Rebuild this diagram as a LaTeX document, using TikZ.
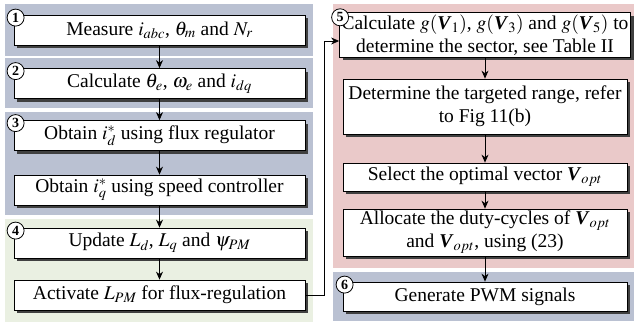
\documentclass[tikz,border=0pt]{standalone}
\usepackage{amsmath}
\usepackage{mathptmx}
\usepackage[no-math]{fontspec}
\setmainfont{Liberation Serif}
\usetikzlibrary{arrows.meta, positioning, shadows, calc}
\definecolor{bandgray}{RGB}{186,193,210}
\definecolor{bandpink}{RGB}{234,201,201}
\definecolor{bandgreen}{RGB}{234,240,226}
\newcommand{\Vvec}{\textbf{\textit{V}}}

\begin{document}
\begin{tikzpicture}[x=1pt, y=-1pt,
    stepbox/.style={rectangle, draw, fill=white, line width=0.8pt, inner sep=2pt, align=center,
        font=\fontsize{19.5}{23}\selectfont,
        drop shadow={shadow xshift=3pt, shadow yshift=-3pt, fill=black!75, opacity=1}},
    leftbox/.style={stepbox, minimum width=291pt, minimum height=30pt},
    rightbox/.style={stepbox, minimum width=284pt},
    stepnum/.style={circle, draw, fill=white, line width=0.8pt, inner sep=0pt, minimum size=17pt,
        font=\fontsize{14}{14}\selectfont\bfseries},
    flow/.style={->, >={Stealth[length=8pt,width=7pt]}, line width=0.8pt}
]
\useasboundingbox (0,0) rectangle (634,324);

% Bands
\fill[bandgray] (5,4) rectangle (313,56);
\fill[bandgray] (5,58) rectangle (313,108);
\fill[bandgray] (5,112) rectangle (313,215);
\fill[bandgreen] (5,219) rectangle (313,322);
\fill[bandpink] (333,4) rectangle (634,268);
\fill[bandgray] (333,272) rectangle (634,321);

% Left column
\node[leftbox] at (159.5,30) (meas) {Measure $i_{abc}$, $\theta_m$ and $N_r$};
\node[leftbox] at (159.5,83.5) (calc) {Calculate $\theta_e$, $\omega_e$ and $i_{dq}$};
\node[leftbox] at (159.5,135.5) (idref) {Obtain $i_d^*$ using flux regulator};
\node[leftbox] at (159.5,190) (iqref) {Obtain $i_q^*$ using speed controller};
\node[leftbox] at (159.5,243) (upd) {Update $L_d$, $L_q$ and $\psi_{PM}$};
\node[leftbox] at (159.5,295) (act) {Activate $L_{PM}$ for flux-regulation};

% Right column
\node[rightbox, minimum height=42pt] at (485,35) (sector) {Calculate $g(\Vvec_1)$, $g(\Vvec_3)$ and $g(\Vvec_5)$ to\\determine the sector, see Table II};
\node[rightbox, minimum height=55pt] at (485,106.5) (range) {Determine the targeted range, refer\\to Fig 11(b)};
\node[rightbox, minimum height=28pt] at (485,177) (sel) {Select the optimal vector $\Vvec_{opt}$};
\node[rightbox, minimum height=47pt] at (485,232.5) (duty) {Allocate the duty-cycles of $\Vvec_{opt}$\\and $\Vvec_{opt}$, using (23)};
\node[rightbox, minimum height=29pt] at (485,296.5) (pwm) {Generate PWM signals};

% Step numbers
\node[stepnum] at ($(meas.north west)+(2,3)$) (n1) {1};
\node[stepnum] at ($(calc.north west)+(2,3)$) (n2) {2};
\node[stepnum] at ($(idref.north west)+(2,3)$) (n3) {3};
\node[stepnum] at ($(upd.north west)+(2,3)$) (n4) {4};
\node[stepnum] at ($(sector.north west)+(1,5)$) (n5) {5};
\node[stepnum] at ($(pwm.north west)+(2,3)$) (n6) {6};

% Arrows
\draw[flow] (meas) -- (calc);
\draw[flow] (calc) -- (idref);
\draw[flow] (idref) -- (iqref);
\draw[flow] (iqref) -- (upd);
\draw[flow] (upd) -- (act);
\coordinate (turn) at (324,41);
\draw[flow] (act.east) -| (turn) -- (turn -| sector.west);
\draw[flow] (sector) -- (range);
\draw[flow] (range) -- (sel);
\draw[flow] (sel) -- (duty);
\draw[flow] (duty) -- (pwm);

\end{tikzpicture}
\end{document}
